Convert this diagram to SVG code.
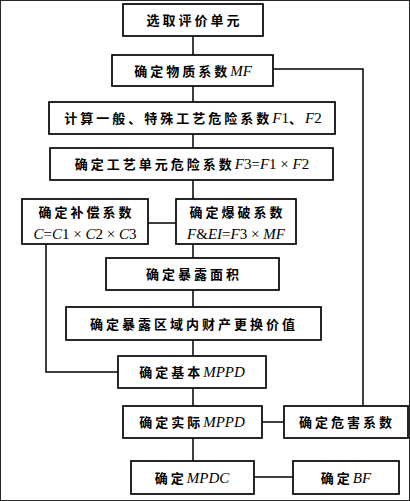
<svg xmlns="http://www.w3.org/2000/svg" width="410" height="501" viewBox="0 0 410 501">
<style>
rect{fill:#fff;stroke:#000;stroke-width:1.7}
.c path{fill:none;stroke:#000;stroke-width:1.5}
text{font-family:"Noto Sans CJK SC","Noto Sans CJK JP",sans-serif;font-size:13px;font-weight:bold;letter-spacing:3px;text-anchor:middle;fill:#000}
.i{font-family:"Liberation Serif",serif;font-style:italic;font-weight:normal;font-size:15px;letter-spacing:0}
.r{font-family:"Liberation Serif",serif;font-style:normal;font-weight:normal;font-size:15px;letter-spacing:0}
</style>
<rect width="410" height="501" fill="#fff" stroke="none"/>
<g class="c">
<path d="M193 36V55M193 86V102M193 134V148M193 180V199M148 223H176M193 244V258M193 290V307M193 340V356M46 244V372H118M193 388V406M262 422H284M363 406V69H273M193 438V461M254 477H293"/>
</g>
<g id="n1"><rect x="123" y="4" width="140" height="32"/><text x="194.5" y="25">选取评价单元</text></g>
<g id="n2"><rect x="112" y="55" width="161" height="31"/><text x="193" y="76">确定物质系数<tspan class="i">MF</tspan></text></g>
<g id="n3"><rect x="49" y="102" width="286" height="32"/><text x="193" y="123">计算一般、特殊工艺危险系数<tspan class="i">F</tspan><tspan class="r">1</tspan>、<tspan class="i">F</tspan><tspan class="r">2</tspan></text></g>
<g id="n4"><rect x="50" y="148" width="283" height="32"/><text x="192" y="169">确定工艺单元危险系数<tspan class="i">F</tspan><tspan class="r">3=</tspan><tspan class="i">F</tspan><tspan class="r">1 × </tspan><tspan class="i">F</tspan><tspan class="r">2</tspan></text></g>
<g id="n5"><rect x="22" y="199" width="126" height="45"/><text x="86.5" y="217">确定补偿系数</text><text x="85" y="239"><tspan class="i">C</tspan><tspan class="r">=</tspan><tspan class="i">C</tspan><tspan class="r">1 × </tspan><tspan class="i">C</tspan><tspan class="r">2 × </tspan><tspan class="i">C</tspan><tspan class="r">3</tspan></text></g>
<g id="n6"><rect x="176" y="199" width="120" height="45"/><text x="237.5" y="217">确定爆破系数</text><text x="236" y="239"><tspan class="i">F</tspan><tspan class="r">&amp;</tspan><tspan class="i">EI</tspan><tspan class="r">=</tspan><tspan class="i">F</tspan><tspan class="r">3 × </tspan><tspan class="i">MF</tspan></text></g>
<g id="n7"><rect x="106" y="258" width="173" height="32"/><text x="194" y="279">确定暴露面积</text></g>
<g id="n8"><rect x="66" y="307" width="255" height="33"/><text x="194" y="329">确定暴露区域内财产更换价值</text></g>
<g id="n9"><rect x="118" y="356" width="148" height="32"/><text x="192" y="377">确定基本<tspan class="i">MPPD</tspan></text></g>
<g id="n10"><rect x="123" y="406" width="139" height="32"/><text x="192" y="427">确定实际<tspan class="i">MPPD</tspan></text></g>
<g id="n11"><rect x="284" y="406" width="124" height="32"/><text x="347" y="427">确定危害系数</text></g>
<g id="n12"><rect x="131" y="461" width="123" height="33"/><text x="192" y="483">确定<tspan class="i">MPDC</tspan></text></g>
<g id="n13"><rect x="293" y="461" width="106" height="33"/><text x="346" y="483">确定<tspan class="i">BF</tspan></text></g>
</svg>
